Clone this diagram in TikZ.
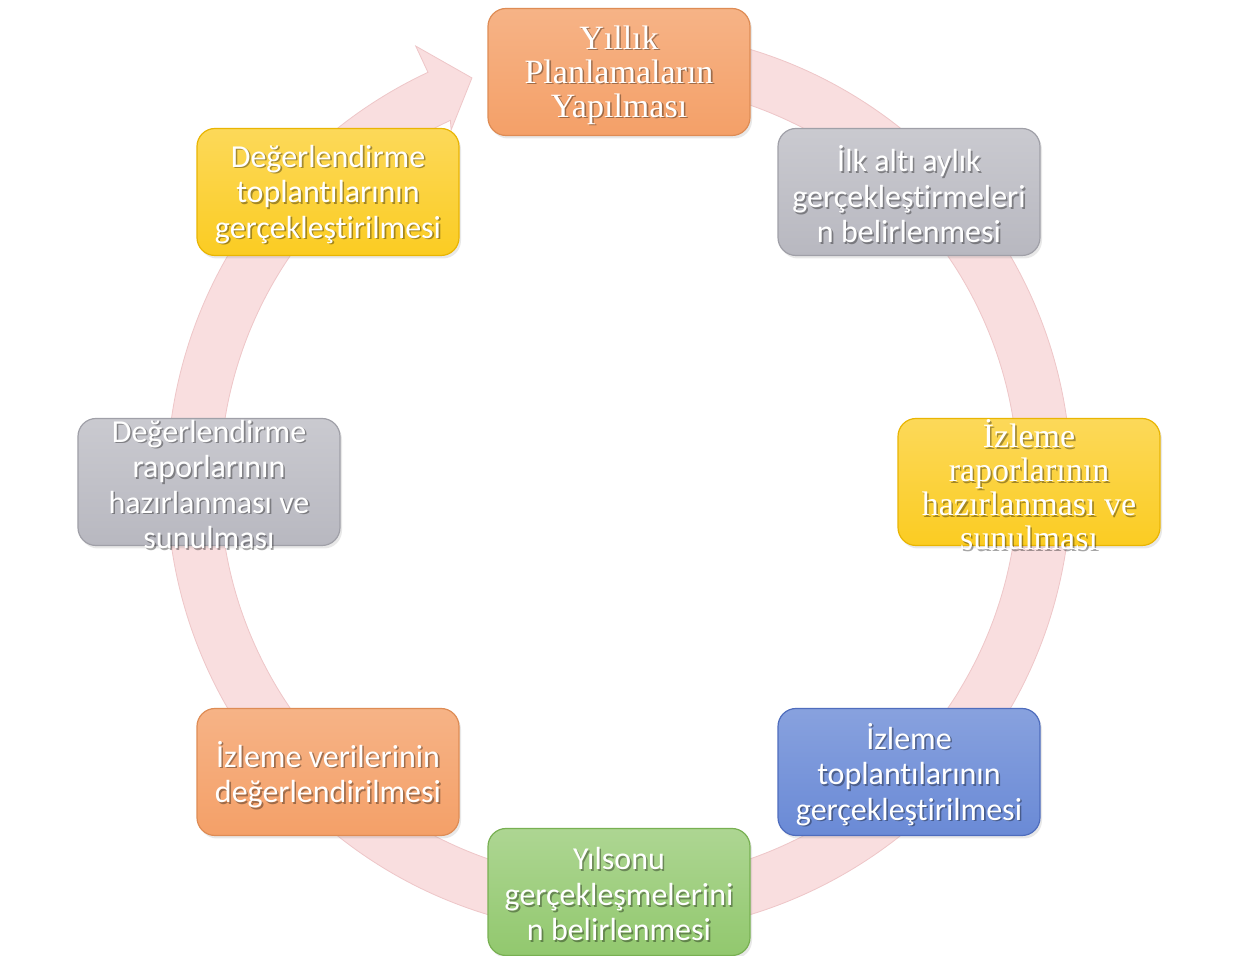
\documentclass[tikz,border=0pt]{standalone}
\usepackage{fontspec}
\newfontfamily\sansf[Ligatures=NoCommon]{Carlito}
\newfontfamily\seriff{Liberation Serif}
\usetikzlibrary{shadows,calc}
\definecolor{bandpink}{HTML}{F9DEDF}
\definecolor{bandedge}{HTML}{EEC6C8}
\definecolor{orng}{HTML}{F4A068}
\definecolor{orngE}{HTML}{DE8C55}
\definecolor{gry}{HTML}{B8B8C0}
\definecolor{gryE}{HTML}{A0A0A8}
\definecolor{ylw}{HTML}{FBCC22}
\definecolor{ylwE}{HTML}{E9B503}
\definecolor{blu}{HTML}{6A8AD6}
\definecolor{bluE}{HTML}{4F6DBD}
\definecolor{grn}{HTML}{92C86E}
\definecolor{grnE}{HTML}{78B052}
\begin{document}
\begin{tikzpicture}[x=1bp,y=1bp,
  stepbox/.style={rounded corners=18bp, minimum width=262bp, minimum height=127bp,
    inner sep=0pt, line width=1.2bp,
    drop shadow={shadow xshift=2bp, shadow yshift=-3bp, opacity=0.18}},
  orangebox/.style={stepbox, draw=orngE, top color=orng!80!white, bottom color=orng},
  graybox/.style={stepbox, draw=gryE, top color=gry!75!white, bottom color=gry},
  yellowbox/.style={stepbox, draw=ylwE, top color=ylw!75!white, bottom color=ylw},
  bluebox/.style={stepbox, draw=bluE, top color=blu!80!white, bottom color=blu},
  greenbox/.style={stepbox, draw=grnE, top color=grn!75!white, bottom color=grn},
  sanstext/.style={text=white, align=center, inner sep=0pt, yshift=-2.5bp,
    font=\sansf\fontsize{32bp}{35.5bp}\selectfont},
  seriftext/.style={text=white, align=center, inner sep=0pt, yshift=-3bp,
    font=\seriff\fontsize{34bp}{34bp}\selectfont},
  shade text/.style={text=black, text opacity=0.35, xshift=1.6bp, yshift=-1.6bp}
]
\useasboundingbox (0,0) rectangle (1235,956);
\fill[white] (0,0) rectangle (1235,956);
\coordinate (c) at (619,474);
% circular arrow band
\fill[bandpink, draw=bandedge, line width=0.8bp]
  ($(c)+(80:452)$) arc[start angle=80, end angle=-245, radius=452]
  -- ($(c)+(115:481)$) -- ($(c)+(110:430)$) -- ($(c)+(115.5:390)$)
  -- ($(c)+(115:399)$) arc[start angle=-245, end angle=80, radius=399] -- cycle;
% boxes
\node[orangebox] (b1) at (619,884) {};
\node[graybox]   (b2) at (909,764) {};
\node[yellowbox] (b3) at (1029,474) {};
\node[bluebox]   (b4) at (909,184) {};
\node[greenbox]  (b5) at (619,64) {};
\node[orangebox] (b6) at (328,184) {};
\node[graybox]   (b7) at (209,474) {};
\node[yellowbox] (b8) at (328,764) {};
% texts (shadow then white)
\node[seriftext, shade text] (s1) at (b1) {Yıllık\\Planlamaların\\Yapılması};
\node[seriftext] (t1) at (b1) {Yıllık\\Planlamaların\\Yapılması};
\node[sanstext, shade text] (s2) at (b2) {İlk altı aylık\\gerçekleştirmeleri\\n belirlenmesi};
\node[sanstext] (t2) at (b2) {İlk altı aylık\\gerçekleştirmeleri\\n belirlenmesi};
\node[seriftext, shade text] (s3) at (b3) {İzleme\\raporlarının\\hazırlanması ve\\sunulması};
\node[seriftext] (t3) at (b3) {İzleme\\raporlarının\\hazırlanması ve\\sunulması};
\node[sanstext, shade text] (s4) at (b4) {İzleme\\toplantılarının\\gerçekleştirilmesi};
\node[sanstext] (t4) at (b4) {İzleme\\toplantılarının\\gerçekleştirilmesi};
\node[sanstext, shade text] (s5) at (b5) {Yılsonu\\gerçekleşmelerini\\n belirlenmesi};
\node[sanstext] (t5) at (b5) {Yılsonu\\gerçekleşmelerini\\n belirlenmesi};
\node[sanstext, shade text] (s6) at (b6) {İzleme verilerinin\\değerlendirilmesi};
\node[sanstext] (t6) at (b6) {İzleme verilerinin\\değerlendirilmesi};
\node[sanstext, shade text] (s7) at (b7) {Değerlendirme\\raporlarının\\hazırlanması ve\\sunulması};
\node[sanstext] (t7) at (b7) {Değerlendirme\\raporlarının\\hazırlanması ve\\sunulması};
\node[sanstext, shade text] (s8) at (b8) {Değerlendirme\\toplantılarının\\gerçekleştirilmesi};
\node[sanstext] (t8) at (b8) {Değerlendirme\\toplantılarının\\gerçekleştirilmesi};
\end{tikzpicture}
\end{document}
